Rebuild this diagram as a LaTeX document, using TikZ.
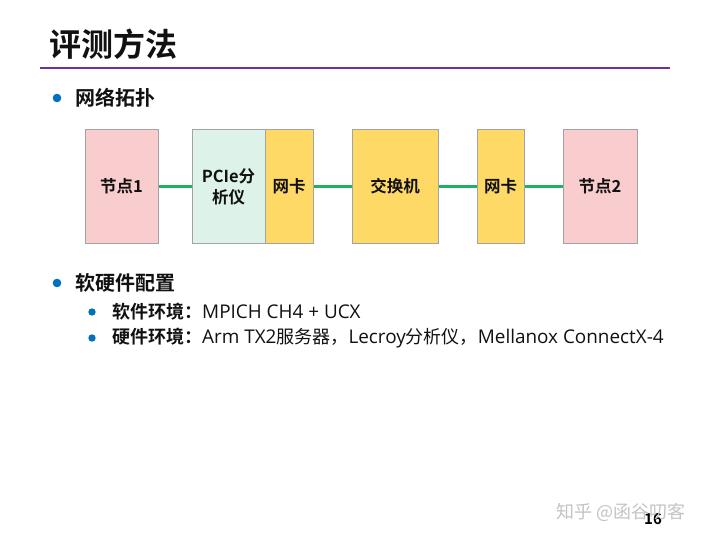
\documentclass[tikz,border=0pt]{standalone}
\usepackage{fontspec}
\setmainfont{Noto Sans CJK SC}[BoldFont={Noto Sans CJK SC Bold}]
\newfontfamily\lat{Open Sans}[Scale=1.05]
\definecolor{pinkfill}{HTML}{F9CCCD}
\definecolor{mintfill}{HTML}{DDF2E9}
\definecolor{goldfill}{HTML}{FFD966}
\definecolor{boxline}{HTML}{A3A3A3}
\definecolor{linkgreen}{HTML}{1DB160}
\definecolor{rulepurple}{HTML}{7030A0}
\definecolor{dotblue}{HTML}{0070C0}
\definecolor{inkblack}{HTML}{111111}
\definecolor{markgray}{HTML}{C4C4C4}
\begin{document}
\begin{tikzpicture}[x=1pt,y=-1pt,
  boxst/.style={draw=boxline,line width=1pt,inner sep=0pt,minimum height=113pt,
    align=center,text=inkblack,font=\bfseries\fontsize{16.5}{21}\selectfont},
  link/.style={draw=linkgreen,line width=2.6pt},
  txt/.style={inner sep=0pt,anchor=west,text=inkblack},
  dotbig/.style={fill=dotblue,draw=none},
]
\useasboundingbox (0,0) rectangle (720,540);
\fill[white] (0,0) rectangle (720,540);

% title and rule
\node[txt,font=\bfseries\fontsize{32}{36}\selectfont] (title) at (49,44) {评测方法};
\draw[rulepurple,line width=2.4pt] (40,68) -- (670,68);

% section: topology
\fill[dotbig] (57,98) circle (4.3);
\node[txt,font=\bfseries\fontsize{20}{24}\selectfont] (sec1) at (75,98) {网络拓扑};

% topology boxes
\node[boxst,fill=pinkfill,minimum width=73pt] (n1) at (121.5,186.5) {节点1};
\node[boxst,fill=mintfill,minimum width=73pt] (pcie) at (228.5,186.5) {PCIe分\\析仪};
\node[boxst,fill=goldfill,minimum width=48pt] (nic1) at (289,186.5) {网卡};
\node[boxst,fill=goldfill,minimum width=86pt] (sw) at (395,186.5) {交换机};
\node[boxst,fill=goldfill,minimum width=47pt] (nic2) at (500.5,186.5) {网卡};
\node[boxst,fill=pinkfill,minimum width=74pt] (n2) at (600,186.5) {节点2};

\draw[link] (n1.east) -- (pcie.west);
\draw[link] (nic1.east) -- (sw.west);
\draw[link] (sw.east) -- (nic2.west);
\draw[link] (nic2.east) -- (n2.west);

% section: software / hardware
\fill[dotbig] (57,283) circle (4.3);
\node[txt,font=\bfseries\fontsize{20}{24}\selectfont] (sec2) at (75,283) {软硬件配置};

\fill[dotbig] (92,312) circle (3.7);
\node[txt,font=\fontsize{18}{21}\selectfont] (sw1) at (112,312)
  {{\bfseries 软件环境：}{\lat MPICH CH4 + UCX}};
\fill[dotbig] (92,338) circle (3.7);
\node[txt,font=\fontsize{18}{21}\selectfont] (hw1) at (112,338)
  {{\bfseries 硬件环境：}{\lat Arm TX2}服务器，{\lat Lecroy}分析仪，{\lat Mellanox ConnectX-4}};

% page number with the light mark laid over it
\node[inner sep=0pt,font=\bfseries\fontsize{15}{18}\selectfont] (pg) at (653,519) {16};
\node[inner sep=0pt,text=markgray,font=\fontsize{18}{20}\selectfont] (mark) at (621,512) {知乎 @函谷叨客};
\end{tikzpicture}
\end{document}
